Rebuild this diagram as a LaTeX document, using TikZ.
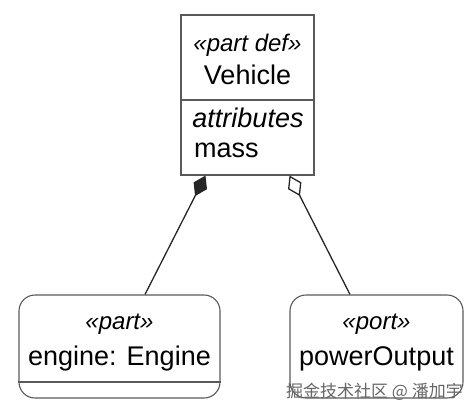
\documentclass[tikz,border=0pt]{standalone}
\usepackage{fontspec}
\setmainfont{Liberation Sans}
\newfontfamily\cjkfont{Noto Sans CJK SC}
\usetikzlibrary{calc,arrows.meta}

\tikzset{
	boxline/.style={draw=black!65, line width=1.1pt, inner sep=0pt},
	partdef/.style={boxline, minimum width=133pt, minimum height=160pt},
	partuse/.style={boxline, rounded corners=16pt, minimum height=103pt},
	stereo/.style={font=\fontsize{24}{26}\selectfont\itshape, inner sep=0pt, anchor=base},
	nametext/.style={font=\fontsize{27}{29}\selectfont, inner sep=0pt, anchor=base},
	composite/.style={line width=1.3pt, draw=black!85, -{Diamond[length=23pt,width=15pt,fill=black!85]}},
	shared/.style={line width=1.3pt, draw=black!85, -{Diamond[open,length=23pt,width=15pt,fill=white]}},
}

\begin{document}
\begin{tikzpicture}[x=1pt, y=-1pt]
			%%%%% START %%%%%
			\useasboundingbox (0, 0) rectangle (476, 412);
			
			% the definition block
			\node[partdef] (vehicle) at (247.5, 95) {};
			\draw[boxline] (vehicle.west |- 0, 100) -- (vehicle.east |- 0, 100);
			\node[stereo] (vehkind) at (247.5, 52) {«part def»};
			\node[nametext] (vehname) at (247.5, 84) {Vehicle};
			\node[nametext, font=\fontsize{27}{29}\selectfont\itshape] (vehattr) at (248, 127) {attributes};
			\node[nametext, anchor=base west] (vehmass) at (194, 157) {mass};
			
			% the usages
			\node[partuse, minimum width=201pt] (engine) at (119.5, 346.5) {};
			\draw[boxline] (engine.west |- 0, 382) -- (engine.east |- 0, 382);
			\node[stereo] (engkind) at (119.5, 329) {«part»};
			\node[nametext] (engname) at (119.5, 365) {engine: Engine};
			
			\node[partuse, minimum width=173pt] (port) at (376.5, 346.5) {};
			\node[stereo] (portkind) at (376.5, 329) {«port»};
			\node[nametext] (portname) at (376.5, 365) {powerOutput};
			
			% connectors
			\draw[composite] ($(engine.north)+(25.5, 0)$) -- ($(vehicle.south)+(-42, 0)$);
			\draw[shared] ($(port.north)+(-26.5, 0)$) -- ($(vehicle.south)+(42, 0)$);
			
			\node[font=\cjkfont\fontsize{17}{19}\selectfont, text=black!60, inner sep=0pt, anchor=base east] (mark) at (463, 397) {掘金技术社区 @ 潘加宇};
			%%%%% END %%%%%
		\end{tikzpicture}
\end{document}
